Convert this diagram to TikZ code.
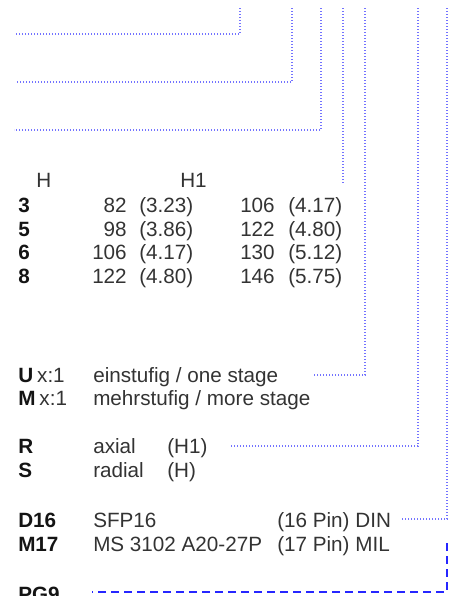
\documentclass[tikz,border=0pt]{standalone}
\usepackage{fontspec}
\setmainfont{Liberation Sans}
\begin{document}
\begin{tikzpicture}[x=0.75pt,y=-0.75pt,
  txt/.style={inner sep=0pt,anchor=base west,text=black!80,font=\fontsize{15.5}{18}\selectfont},
  rtxt/.style={txt,anchor=base east},
  lbl/.style={txt,text=black!92,font=\fontsize{15.5}{18}\selectfont\bfseries},
  leader/.style={draw=blue!55,line width=1pt,dash pattern=on 0.8pt off 1.45pt},
  dleader/.style={draw=blue!85,line width=0.9pt,dash pattern=on 6pt off 3.75pt}]
\useasboundingbox (0,0) rectangle (461,596);
\clip (0,0) rectangle (461,596);
% header
\node[txt] (hH) at (36,187) {H};
\node[txt] (hH1) at (180,187) {H1};
% table rows
\foreach \y/\a/\b/\c/\d/\e [count=\i] in {212/3/82/(3.23)/106/(4.17), 236/5/98/(3.86)/122/(4.80), 259/6/106/(4.17)/130/(5.12), 283/8/122/(4.80)/146/(5.75)}{
  \node[lbl] (r\i) at (18,\y) {\a};
  \node[rtxt] (r\i a) at (127,\y) {\b};
  \node[txt] (r\i b) at (139,\y) {\c};
  \node[rtxt] (r\i c) at (275,\y) {\d};
  \node[txt] (r\i d) at (288,\y) {\e};
}
% options
\node[lbl] (U) at (18,382) {U};
\node[txt] (Ux) at (U.base east) {\,x:1};
\node[txt] (Ut) at (93,382) {einstufig / one stage};
\node[lbl] (M) at (18,405) {M};
\node[txt] (Mx) at (M.base east) {\,x:1};
\node[txt] (Mt) at (93,405) {mehrstufig / more stage};
\node[lbl] (R) at (18,453) {R};
\node[txt] (Rt) at (93,453) {axial};
\node[txt] (Rh) at (167,453) {(H1)};
\node[lbl] (S) at (18,477) {S};
\node[txt] (St) at (93,477) {radial};
\node[txt] (Sh) at (167,477) {(H)};
\node[lbl] (D) at (18,527) {D16};
\node[txt] (Dt) at (93,527) {SFP16};
\node[txt] (Dp) at (277,527) {(16 Pin) DIN};
\node[lbl] (M17) at (18,551) {M17};
\node[txt] (M17t) at (93,551) {MS 3102 A20-27P};
\node[txt] (M17p) at (277,551) {(17 Pin) MIL};
\node[lbl] (PG) at (18,601) {PG9};
% leader coordinates
\coordinate (t1) at (240,8);  \coordinate (e1) at (16,34);
\coordinate (t2) at (292,8);  \coordinate (e2) at (16,82);
\coordinate (t3) at (321,8);  \coordinate (e3) at (14,130);
\coordinate (t4) at (343,8);  \coordinate (e4) at (343,183);
\coordinate (t5) at (365,8);  \coordinate (e5) at (314,375);
\coordinate (t6) at (418,8);  \coordinate (e6) at (231,446);
\coordinate (t7) at (447,8);  \coordinate (e7) at (402,519);
\coordinate (t8) at (447,543); \coordinate (e8) at (92,592);
\draw[leader] (t1) |- (e1);
\draw[leader] (t2) |- (e2);
\draw[leader] (t3) |- (e3);
\draw[leader] (t4) -- (e4);
\draw[leader] (t5) |- (e5);
\draw[leader] (t6) |- (e6);
\draw[leader] (t7) |- (e7);
\draw[dleader] (t8) |- (e8);
\end{tikzpicture}
\end{document}
